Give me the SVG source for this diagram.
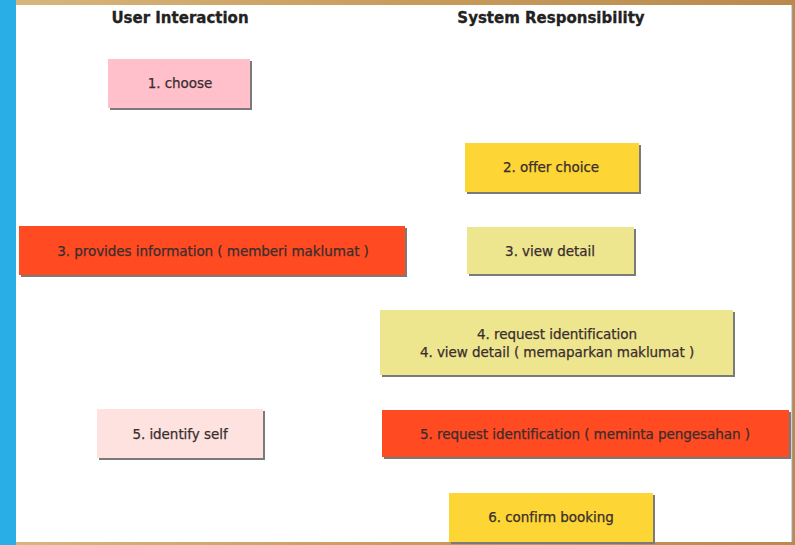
<svg xmlns="http://www.w3.org/2000/svg" width="795" height="545" viewBox="0 0 795 545">
  <defs>
    <linearGradient id="sand" x1="0" y1="0" x2="1" y2="0">
      <stop offset="0" stop-color="#d8b77f"/>
      <stop offset="0.5" stop-color="#c99c5c"/>
      <stop offset="1" stop-color="#b98a4c"/>
    </linearGradient>
  </defs>
  <style>
    .head { font-family: "DejaVu Sans", Verdana, sans-serif; font-weight: bold; font-size: 15px; fill: #222; stroke: #222; stroke-width: 0.3; text-anchor: middle; }
    .lbl { font-family: "DejaVu Sans", "Liberation Sans", sans-serif; font-size: 13.5px; fill: #3a2e2e; stroke: #3a2e2e; stroke-width: 0.25; text-anchor: middle; letter-spacing: -0.05px; }
    .shadow { fill: #7a7a7a; }
    .pink { fill: #ffbfcb; }
    .pale { fill: #fde2df; }
    .gold { fill: #fdd535; }
    .khaki { fill: #eee58f; }
    .red { fill: #ff4a22; }
  </style>

  <!-- backdrop around the sheet -->
  <rect x="0" y="0" width="795" height="545" fill="url(#sand)"/>
  <rect x="0" y="0" width="16" height="545" fill="#2aaee6"/>
  <rect x="16" y="5" width="776" height="537" fill="#ffffff"/>
  <line x1="792" y1="5" x2="792" y2="542" stroke="#9aa6c0" stroke-width="1"/>

  <!-- column headings -->
  <text class="head" x="180" y="23">User Interaction</text>
  <text class="head" x="551" y="23">System Responsibility</text>

  <g id="connectors"></g>

  <g id="n1-choose">
    <rect class="shadow" x="110" y="61" width="142" height="49"/>
    <rect class="pink" x="108" y="59" width="142" height="49"/>
    <text class="lbl" x="180" y="88">1. choose</text>
  </g>

  <g id="n2-offer-choice">
    <rect class="shadow" x="467" y="145" width="174" height="49"/>
    <rect class="gold" x="465" y="143" width="174" height="49"/>
    <text class="lbl" x="551" y="172">2. offer choice</text>
  </g>

  <g id="n3-provides-information">
    <rect class="shadow" x="21" y="228" width="386" height="49"/>
    <rect class="red" x="19" y="226" width="386" height="49"/>
    <text class="lbl" x="213" y="256">3. provides information ( memberi maklumat )</text>
  </g>

  <g id="n3-view-detail">
    <rect class="shadow" x="469" y="229" width="167" height="47"/>
    <rect class="khaki" x="467" y="227" width="167" height="47"/>
    <text class="lbl" x="550" y="256">3. view detail</text>
  </g>

  <g id="n4-request-view">
    <rect class="shadow" x="382" y="312" width="353" height="65"/>
    <rect class="khaki" x="380" y="310" width="353" height="65"/>
    <text class="lbl" x="557" y="339">4. request identification</text>
    <text class="lbl" x="557" y="357">4. view detail ( memaparkan maklumat )</text>
  </g>

  <g id="n5-identify-self">
    <rect class="shadow" x="99" y="411" width="166" height="49"/>
    <rect class="pale" x="97" y="409" width="166" height="49"/>
    <text class="lbl" x="180" y="439">5. identify self</text>
  </g>

  <g id="n5-request-identification">
    <rect class="shadow" x="384" y="412" width="407" height="47"/>
    <rect class="red" x="382" y="410" width="407" height="47"/>
    <text class="lbl" x="585" y="439">5. request identification ( meminta pengesahan )</text>
  </g>

  <g id="n6-confirm-booking">
    <rect class="shadow" x="451" y="495" width="204" height="49"/>
    <rect class="gold" x="449" y="493" width="204" height="49"/>
    <text class="lbl" x="551" y="522">6. confirm booking</text>
  </g>
</svg>
